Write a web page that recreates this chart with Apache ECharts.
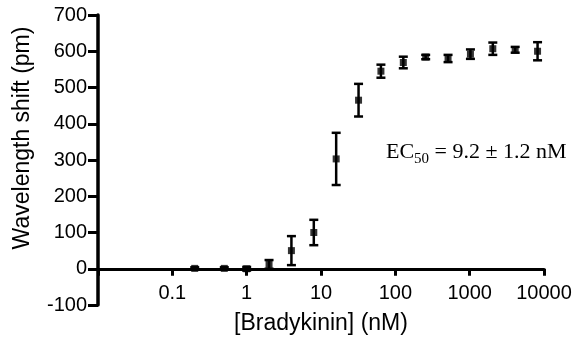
<!DOCTYPE html>
<html>
<head>
<meta charset="utf-8">
<script src="https://cdn.jsdelivr.net/npm/echarts@6/dist/echarts.min.js"></script>
<style>html,body{margin:0;padding:0;background:#fff}#c{width:575px;height:339px}</style>
</head>
<body>
<div id="c"></div>
<script>
const concentrations = [0.2, 0.5, 1, 2, 4, 8, 16, 32, 64, 128, 256, 512, 1024, 2048, 4096, 8192];
const shiftMean = [1, 1, 0, 12, 50, 100, 303, 465, 545, 569, 584, 580, 592, 607, 604, 600];
const shiftErr = [3, 3, 5, 12, 40, 35, 72, 45, 18, 16, 6, 10, 13, 17, 8, 25];
const xTickLabels = ['0.1', '1', '10', '100', '1000', '10000'];

const pts = concentrations.map((c, i) => [c, shiftMean[i]]);
const bars = concentrations.map((c, i) => [c, shiftMean[i] - shiftErr[i], shiftMean[i] + shiftErr[i]]);

const chart = echarts.init(document.getElementById('c'), null, {renderer: 'canvas'});
const font = 'Liberation Sans, Arial, sans-serif';
chart.setOption({
  animation: false,
  grid: {left: 98, top: 15, width: 446, height: 290, containLabel: false, outerBoundsMode: 'none'},
  xAxis: {
    type: 'log', logBase: 10, min: 0.01, max: 10000,
    splitLine: {show: false},
    axisLine: {onZero: true, lineStyle: {color: '#000', width: 3}},
    axisTick: {length: 7, lineStyle: {color: '#000', width: 3}},
    minorTick: {show: false},
    axisLabel: {
      margin: -22, color: '#000', fontSize: 20, fontFamily: font,
      formatter: v => {
        const s = String(+v.toPrecision(6));
        return xTickLabels.includes(s) ? s : '';
      }
    },
    name: '[Bradykinin] (nM)', nameLocation: 'middle', nameGap: 7,
    nameTextStyle: {color: '#000', fontSize: 23, fontFamily: font}
  },
  yAxis: {
    type: 'value', min: -100, max: 700, interval: 100,
    splitLine: {show: false},
    axisLine: {onZero: false, lineStyle: {color: '#000', width: 3.5}},
    axisTick: {length: 10, lineStyle: {color: '#000', width: 3}},
    axisLabel: {margin: 11, color: '#000', fontSize: 20, fontFamily: font},
    name: 'Wavelength shift (pm)', nameLocation: 'middle', nameGap: 64,
    nameTextStyle: {color: '#000', fontSize: 23, fontFamily: font, padding: [0, 0, 0, 44]}
  },
  series: [
    {
      type: 'custom',
      data: bars,
      z: 3,
      renderItem: (params, api) => {
        const x = api.value(0);
        const lo = api.coord([x, api.value(1)]);
        const hi = api.coord([x, api.value(2)]);
        const hw = 4.5;
        const st = {stroke: '#000', lineWidth: 2.5};
        return {
          type: 'group',
          children: [
            {type: 'line', shape: {x1: lo[0], y1: lo[1], x2: hi[0], y2: hi[1]}, style: st},
            {type: 'line', shape: {x1: lo[0] - hw, y1: lo[1], x2: lo[0] + hw, y2: lo[1]}, style: st},
            {type: 'line', shape: {x1: hi[0] - hw, y1: hi[1], x2: hi[0] + hw, y2: hi[1]}, style: st}
          ]
        };
      }
    },
    {
      type: 'scatter',
      data: pts,
      symbol: 'rect',
      symbolSize: 7,
      itemStyle: {color: '#000'},
      z: 4
    }
  ],
  graphic: [{
    type: 'text', left: 386, top: 141,
    style: {
      text: '{m|EC}{s|50}{m| = 9.2 ± 1.2 nM}',
      rich: {
        m: {fontFamily: 'Liberation Serif, Times New Roman, serif', fontSize: 22, fill: '#000', verticalAlign: 'bottom'},
        s: {fontFamily: 'Liberation Serif, Times New Roman, serif', fontSize: 15, fill: '#000', verticalAlign: 'bottom', padding: [0, 0, -4, 0]}
      }
    }
  }]
});
</script>
</body>
</html>
